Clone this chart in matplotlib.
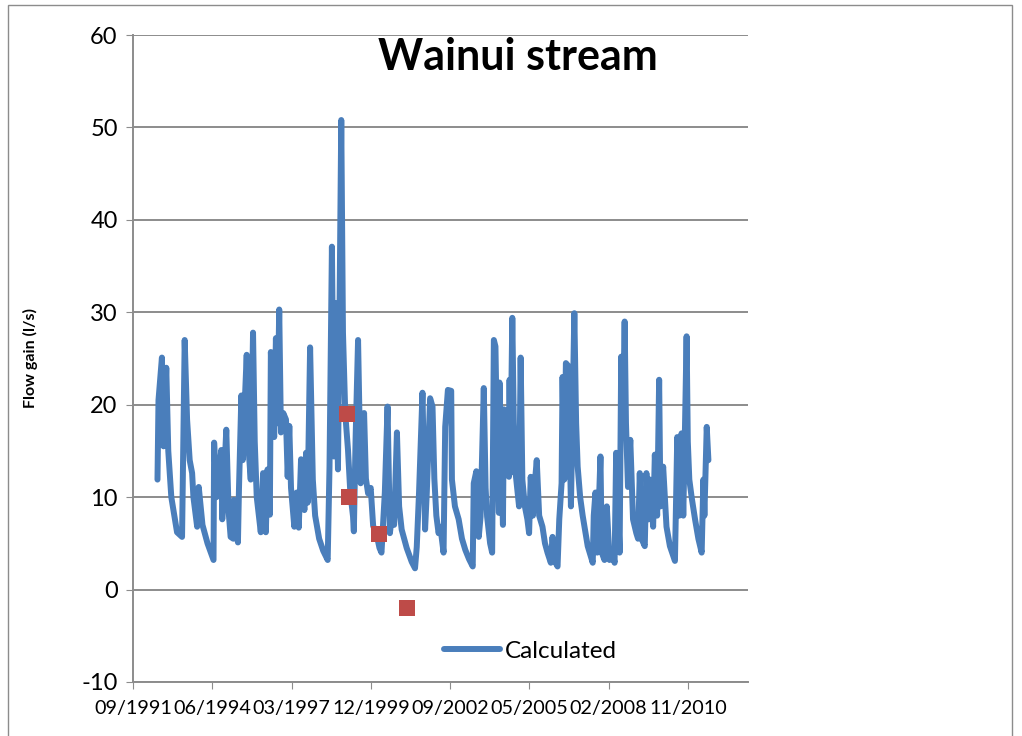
import numpy as np
import pandas as pd
import matplotlib
matplotlib.use('Agg')
import matplotlib.pyplot as plt
import matplotlib.dates as mdates
from matplotlib.patches import Rectangle

plt.rcParams['font.family'] = ['Lato', 'DejaVu Sans']
plt.rcParams['axes.unicode_minus'] = False

# modelled flow gain, sampled at peaks and troughs (decimal years, l/s)
calc_year = [
    1992.560, 1992.595, 1992.713, 1992.769, 1992.863, 1992.932, 1993.037, 1993.235, 1993.408, 1993.499,
    1993.582, 1993.672, 1993.756, 1993.801, 1993.930, 1993.985, 1994.114, 1994.288, 1994.496, 1994.517,
    1994.600, 1994.764, 1994.798, 1994.937, 1995.017, 1995.087, 1995.181, 1995.201, 1995.340, 1995.375,
    1995.459, 1995.504, 1995.573, 1995.643, 1995.712, 1995.782, 1995.862, 1995.921, 1995.990, 1996.129,
    1996.209, 1996.303, 1996.362, 1996.442, 1996.477, 1996.591, 1996.651, 1996.703, 1996.765, 1996.824,
    1996.904, 1996.998, 1997.057, 1997.113, 1997.172, 1997.286, 1997.370, 1997.439, 1997.519, 1997.634,
    1997.693, 1997.745, 1997.832, 1997.926, 1998.006, 1998.145, 1998.284, 1998.440, 1998.503, 1998.586,
    1998.656, 1998.701, 1998.795, 1998.850, 1998.909, 1998.968, 1999.048, 1999.142, 1999.222, 1999.316,
    1999.344, 1999.406, 1999.490, 1999.580, 1999.698, 1999.761, 1999.837, 1999.927, 2000.011, 2000.126,
    2000.230, 2000.299, 2000.414, 2000.508, 2000.588, 2000.664, 2000.734, 2000.831, 2000.907, 2000.994,
    2001.168, 2001.342, 2001.456, 2001.516, 2001.595, 2001.714, 2001.804, 2001.863, 2001.978, 2002.061,
    2002.124, 2002.193, 2002.270, 2002.332, 2002.443, 2002.499, 2002.593, 2002.707, 2002.732, 2002.836,
    2002.965, 2003.079, 2003.194, 2003.323, 2003.451, 2003.486, 2003.576, 2003.660, 2003.722, 2003.833,
    2003.896, 2003.948, 2004.052, 2004.122, 2004.181, 2004.236, 2004.296, 2004.355, 2004.375, 2004.494,
    2004.528, 2004.608, 2004.702, 2004.723, 2004.747, 2004.817, 2004.869, 2004.931, 2005.050, 2005.105,
    2005.164, 2005.251, 2005.338, 2005.397, 2005.453, 2005.529, 2005.581, 2005.661, 2005.745, 2005.859,
    2005.946, 2006.033, 2006.148, 2006.207, 2006.266, 2006.381, 2006.440, 2006.520, 2006.554, 2006.613,
    2006.669, 2006.752, 2006.843, 2006.961, 2007.023, 2007.076, 2007.162, 2007.249, 2007.423, 2007.597,
    2007.632, 2007.691, 2007.753, 2007.864, 2007.910, 2008.003, 2008.083, 2008.177, 2008.292, 2008.351,
    2008.406, 2008.525, 2008.580, 2008.639, 2008.698, 2008.744, 2008.813, 2008.893, 2008.987, 2009.101,
    2009.161, 2009.220, 2009.282, 2009.393, 2009.449, 2009.525, 2009.578, 2009.682, 2009.741, 2009.821,
    2009.890, 2009.935, 2010.029, 2010.144, 2010.262, 2010.436, 2010.516, 2010.585, 2010.665, 2010.724,
    2010.783, 2010.839, 2010.881, 2010.933, 2011.013, 2011.131, 2011.246, 2011.360, 2011.419, 2011.454,
    2011.535, 2011.593,
]
calc_flow = [
    11.9, 20.5, 25.1, 15.5, 24.0, 15.0, 10.0, 6.2, 5.7, 27.0,
    18.4, 14.0, 12.6, 10.0, 6.8, 11.1, 7.0, 5.0, 3.2, 15.9,
    10.0, 15.1, 7.6, 17.3, 8.5, 5.7, 5.5, 9.7, 5.1, 10.8,
    21.0, 14.0, 20.0, 25.4, 15.0, 11.9, 27.8, 16.0, 10.0, 6.2,
    12.6, 6.2, 13.0, 8.1, 25.7, 16.5, 27.2, 18.0, 30.3, 17.0,
    19.1, 18.4, 12.2, 17.7, 11.0, 6.8, 10.5, 6.7, 14.1, 8.6,
    14.8, 9.4, 26.2, 11.9, 8.0, 5.5, 4.2, 3.2, 13.3, 37.1,
    14.4, 31.0, 13.0, 30.6, 50.8, 27.8, 19.0, 15.1, 10.5, 7.9,
    6.3, 16.5, 27.0, 11.5, 19.1, 12.0, 10.4, 11.0, 6.9, 6.0,
    4.5, 4.0, 10.5, 19.8, 6.1, 8.1, 7.0, 17.0, 9.0, 6.5,
    4.5, 3.0, 2.3, 4.6, 10.5, 21.3, 6.5, 10.5, 20.7, 19.8,
    12.0, 8.0, 6.1, 6.8, 4.0, 17.6, 21.6, 21.5, 11.9, 9.0,
    7.6, 5.5, 4.3, 3.3, 2.5, 11.5, 12.8, 5.7, 7.9, 21.8,
    11.0, 7.9, 5.0, 4.0, 27.0, 26.3, 15.0, 8.3, 22.4, 7.0,
    19.5, 14.0, 12.2, 22.7, 12.6, 29.4, 18.0, 12.6, 9.0, 25.1,
    11.9, 9.0, 7.6, 6.1, 12.2, 8.0, 11.0, 14.0, 8.0, 6.8,
    5.0, 4.0, 2.9, 5.7, 3.2, 2.5, 7.6, 11.5, 23.0, 11.9,
    24.5, 24.2, 9.0, 29.9, 18.0, 13.3, 10.0, 8.0, 4.7, 2.9,
    8.0, 10.5, 4.0, 14.4, 4.0, 3.2, 9.0, 3.2, 4.0, 2.9,
    14.8, 4.0, 25.2, 18.0, 29.0, 18.0, 11.1, 16.2, 7.6, 6.1,
    5.5, 12.6, 5.5, 4.7, 12.6, 7.6, 11.9, 6.8, 14.6, 8.0,
    22.7, 9.0, 13.3, 6.8, 4.7, 3.1, 16.5, 8.0, 16.9, 8.0,
    17.5, 27.4, 16.0, 11.9, 10.0, 7.6, 5.5, 4.0, 11.9, 8.0,
    17.6, 14.0,
]

# measured gauging values
obs_year = [1999.11, 1999.18, 2000.20, 2001.19]
obs_flow = [19, 10, 6, -2]

tick_start = '1991-09-19'
title = 'Wainui stream'
ylabel = 'Flow gain (l/s)'


def to_date(y):
    yr = int(y)
    t0 = pd.Timestamp(year=yr, month=1, day=1)
    t1 = pd.Timestamp(year=yr + 1, month=1, day=1)
    return t0 + (t1 - t0) * (y - yr)


calc_dates = [to_date(v) for v in calc_year]
obs_dates = [to_date(v) for v in obs_year]

fig = plt.figure(figsize=(10.22, 7.36), dpi=100)
ax = fig.add_axes([133 / 1022, 1 - 682 / 736, 615 / 1022, 647 / 736])

# chart border
fig.patches.append(Rectangle((8 / 1022, -0.02), 1004 / 1022, 1.02 - 5 / 736,
                             transform=fig.transFigure, fill=False,
                             edgecolor='#8c8c8c', linewidth=1))

line, = ax.plot(calc_dates, calc_flow, color='#4a7ebb', linewidth=4.3,
                solid_joinstyle='round', solid_capstyle='round', zorder=3)
ax.scatter(obs_dates, obs_flow, marker='s', s=140, color='#be4b48',
           zorder=4, linewidths=0)

ax.set_ylim(-10, 60)
ax.set_yticks(range(-10, 61, 10))
ticks = pd.date_range(start=tick_start, periods=8, freq='1000D')
ax.set_xticks(ticks)
ax.xaxis.set_major_formatter(mdates.DateFormatter('%m/%Y'))
ax.set_xlim(pd.Timestamp(tick_start), pd.Timestamp(tick_start) + pd.Timedelta(days=7760))

ax.grid(axis='y', color='#8c8c8c', linewidth=1.4)
ax.set_axisbelow(True)
for s in ['top', 'right']:
    ax.spines[s].set_visible(False)
for s in ['left', 'bottom']:
    ax.spines[s].set_color('#8c8c8c')
    ax.spines[s].set_linewidth(1.4)
ax.tick_params(axis='y', labelsize=17, length=5, color='#8c8c8c', pad=6)
ax.tick_params(axis='x', labelsize=14.2, length=5, color='#8c8c8c', pad=8)

ax.set_ylabel(ylabel, fontsize=11.5, fontweight='bold', labelpad=31)
fig.text(518 / 1022, 1 - 57 / 736, title, fontsize=31, fontweight='bold',
         ha='center', va='center')

ax.legend([line], ['Calculated'], loc='center left', frameon=False,
          bbox_to_anchor=(432 / 1022, 1 - 651 / 736), bbox_transform=fig.transFigure,
          fontsize=17.5, handlelength=2.3, handletextpad=0.2, borderpad=0)

fig.savefig('out.png', dpi=100)
